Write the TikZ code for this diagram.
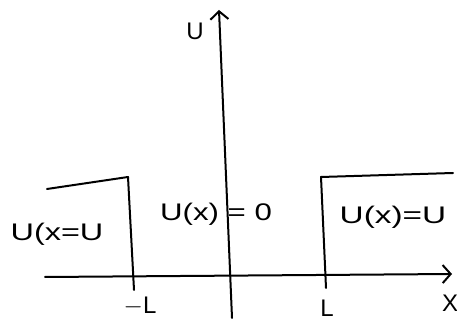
\documentclass[tikz,border=0pt]{standalone}
\usepackage{fontspec}
\setmainfont{Liberation Sans}
\usetikzlibrary{arrows.meta}
\begin{document}
\begin{tikzpicture}[x=1pt,y=1pt,
  ink/.style={line width=2pt, line cap=round, line join=round},
  lbl/.style={inner sep=0pt, font=\fontsize{24}{28}\selectfont},
  axarrow/.style={-{Straight Barb[length=8pt,width=18pt,line width=2pt]}}]
\useasboundingbox (0,0) rectangle (457,323);
% axes
\coordinate (vb) at (232,5);
\coordinate (vt) at (219,313);
\coordinate (hl) at (45,46);
\coordinate (hr) at (452,49);
\draw[ink,axarrow] (vb) -- (vt);
\draw[ink,axarrow] (hl) -- (hr);
% left barrier
\coordinate (la) at (47,134);
\coordinate (lb) at (128,146);
\coordinate (lc) at (134,33);
\draw[ink] (la) -- (lb) -- (lc);
% right barrier
\coordinate (ra) at (326,35);
\coordinate (rb) at (321,146);
\coordinate (rc) at (453,150);
\draw[ink] (ra) -- (rb) -- (rc);
% labels
\node[lbl] (uax) at (195,292) {U};
\node[lbl] (left) at (57,89) {\scalebox{1.35}[1]{U(x=U}};
\node[lbl] (mid) at (216,109) {\scalebox{1.3}[1]{U(x) = 0}};
\node[lbl] (right) at (393,106) {\scalebox{1.39}[1]{U(x)=U}};
\node[lbl] (mL) at (140,17) {$-$L};
\node[lbl] (pL) at (327,15) {L};
\node[lbl] (xl) at (450,20) {X};
\end{tikzpicture}
\end{document}
